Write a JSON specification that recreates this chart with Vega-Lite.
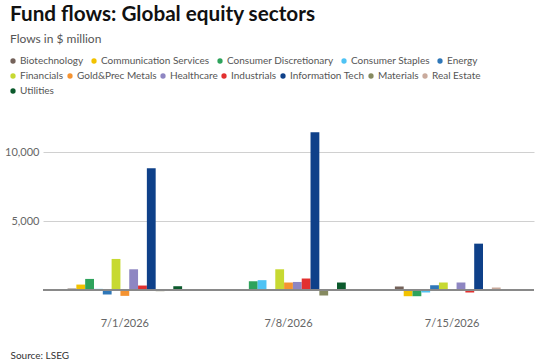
{
  "$schema": "https://vega.github.io/schema/vega-lite/v6.json",
  "width": 491,
  "height": 186,
  "autosize": "none",
  "padding": {"left": 43, "top": 118, "right": 20, "bottom": 60},
  "background": "white",
  "config": {
    "font": "Lato",
    "view": {"stroke": null},
    "axis": {"labelFont": "Lato", "titleFont": "Lato"},
    "legend": {"labelFont": "Lato"}
  },
  "title": {
    "text": "Fund flows: Global equity sectors",
    "subtitle": "Flows in $ million",
    "anchor": "start",
    "frame": "group",
    "dx": -33,
    "offset": 10,
    "font": "Lato",
    "fontSize": 20.7,
    "fontWeight": "bold",
    "color": "#111111",
    "subtitleFont": "Lato",
    "subtitleFontSize": 12,
    "subtitleColor": "#555555",
    "subtitlePadding": 8
  },
  "data": {
    "values": [
      {"date": "7/1/2026", "sector": "Biotechnology", "flow": 120},
      {"date": "7/1/2026", "sector": "Communication Services", "flow": 410},
      {"date": "7/1/2026", "sector": "Consumer Discretionary", "flow": 820},
      {"date": "7/1/2026", "sector": "Consumer Staples", "flow": 100},
      {"date": "7/1/2026", "sector": "Energy", "flow": -310},
      {"date": "7/1/2026", "sector": "Financials", "flow": 2270},
      {"date": "7/1/2026", "sector": "Gold&Prec Metals", "flow": -410},
      {"date": "7/1/2026", "sector": "Healthcare", "flow": 1520},
      {"date": "7/1/2026", "sector": "Industrials", "flow": 340},
      {"date": "7/1/2026", "sector": "Information Tech", "flow": 8860},
      {"date": "7/1/2026", "sector": "Materials", "flow": -70},
      {"date": "7/1/2026", "sector": "Real Estate", "flow": -20},
      {"date": "7/1/2026", "sector": "Utilities", "flow": 290},
      {"date": "7/8/2026", "sector": "Biotechnology", "flow": 20},
      {"date": "7/8/2026", "sector": "Communication Services", "flow": -20},
      {"date": "7/8/2026", "sector": "Consumer Discretionary", "flow": 650},
      {"date": "7/8/2026", "sector": "Consumer Staples", "flow": 730},
      {"date": "7/8/2026", "sector": "Energy", "flow": -50},
      {"date": "7/8/2026", "sector": "Financials", "flow": 1520},
      {"date": "7/8/2026", "sector": "Gold&Prec Metals", "flow": 560},
      {"date": "7/8/2026", "sector": "Healthcare", "flow": 600},
      {"date": "7/8/2026", "sector": "Industrials", "flow": 850},
      {"date": "7/8/2026", "sector": "Information Tech", "flow": 11470},
      {"date": "7/8/2026", "sector": "Materials", "flow": -390},
      {"date": "7/8/2026", "sector": "Real Estate", "flow": 10},
      {"date": "7/8/2026", "sector": "Utilities", "flow": 560},
      {"date": "7/15/2026", "sector": "Biotechnology", "flow": 270},
      {"date": "7/15/2026", "sector": "Communication Services", "flow": -435},
      {"date": "7/15/2026", "sector": "Consumer Discretionary", "flow": -435},
      {"date": "7/15/2026", "sector": "Consumer Staples", "flow": -170},
      {"date": "7/15/2026", "sector": "Energy", "flow": 360},
      {"date": "7/15/2026", "sector": "Financials", "flow": 560},
      {"date": "7/15/2026", "sector": "Gold&Prec Metals", "flow": 10},
      {"date": "7/15/2026", "sector": "Healthcare", "flow": 560},
      {"date": "7/15/2026", "sector": "Industrials", "flow": -170},
      {"date": "7/15/2026", "sector": "Information Tech", "flow": 3380},
      {"date": "7/15/2026", "sector": "Materials", "flow": -20},
      {"date": "7/15/2026", "sector": "Real Estate", "flow": 190},
      {"date": "7/15/2026", "sector": "Utilities", "flow": 10}
    ]
  },
  "encoding": {
    "x": {
      "field": "date",
      "type": "ordinal",
      "sort": ["7/1/2026", "7/8/2026", "7/15/2026"],
      "scale": {"paddingInner": 0.3, "paddingOuter": 0.15},
      "axis": {
        "title": "Source: LSEG",
        "titleAnchor": "start",
        "titleAlign": "left",
        "titleBaseline": "alphabetic",
        "titleX": -33,
        "titleY": 54,
        "titleFontSize": 10,
        "titleFontWeight": "normal",
        "titleColor": "#333333",
        "labelAngle": 0,
        "labelFontSize": 11,
        "labelColor": "#666666",
        "labelPadding": 13,
        "domain": false,
        "ticks": false,
        "grid": false
      }
    },
    "xOffset": {
      "field": "sector",
      "type": "nominal",
      "scale": {
        "domain": ["Biotechnology", "Communication Services", "Consumer Discretionary", "Consumer Staples", "Energy", "Financials", "Gold&Prec Metals", "Healthcare", "Industrials", "Information Tech", "Materials", "Real Estate", "Utilities"],
        "paddingInner": 0,
        "paddingOuter": 0
      }
    },
    "y": {
      "field": "flow",
      "type": "quantitative",
      "scale": {"domain": [-1000, 12500], "nice": false, "zero": false},
      "axis": {
        "title": null,
        "values": [5000, 10000],
        "format": ",.0f",
        "labelFontSize": 11,
        "labelColor": "#666666",
        "labelPadding": 4,
        "domain": false,
        "ticks": false,
        "gridColor": "#d0d0d0",
        "gridWidth": 1
      }
    }
  },
  "layer": [
    {
      "transform": [{"filter": {"field": "sector", "oneOf": ["Biotechnology", "Communication Services", "Consumer Discretionary", "Consumer Staples", "Energy"]}}],
      "mark": {"type": "bar"},
      "encoding": {
        "color": {
          "field": "sector",
          "type": "nominal",
          "scale": {
            "domain": ["Biotechnology", "Communication Services", "Consumer Discretionary", "Consumer Staples", "Energy"],
            "range": ["#74625a", "#f2c200", "#2ea35c", "#4fc3f4", "#2f77b8"]
          },
          "legend": {
            "orient": "none", "legendX": -35, "legendY": -62, "direction": "horizontal",
            "columns": 5, "gridAlign": "none", "title": null, "symbolType": "circle",
            "symbolSize": 28, "labelFontSize": 10, "labelColor": "#555555", "columnPadding": 5, "labelOffset": 2
          }
        }
      }
    },
    {
      "transform": [{"filter": {"field": "sector", "oneOf": ["Financials", "Gold&Prec Metals", "Healthcare", "Industrials", "Information Tech", "Materials", "Real Estate"]}}],
      "mark": {"type": "bar"},
      "encoding": {
        "color": {
          "field": "sector",
          "type": "nominal",
          "scale": {
            "domain": ["Financials", "Gold&Prec Metals", "Healthcare", "Industrials", "Information Tech", "Materials", "Real Estate"],
            "range": ["#c7d932", "#f59331", "#8e86c2", "#e2302f", "#0e4089", "#868a60", "#c9aa9c"]
          },
          "legend": {
            "orient": "none", "legendX": -35, "legendY": -47, "direction": "horizontal",
            "columns": 7, "gridAlign": "none", "title": null, "symbolType": "circle",
            "symbolSize": 28, "labelFontSize": 10, "labelColor": "#555555", "columnPadding": 1, "labelOffset": 2
          }
        }
      }
    },
    {
      "transform": [{"filter": {"field": "sector", "oneOf": ["Utilities"]}}],
      "mark": {"type": "bar"},
      "encoding": {
        "color": {
          "field": "sector",
          "type": "nominal",
          "scale": {"domain": ["Utilities"], "range": ["#0b5a2c"]},
          "legend": {
            "orient": "none", "legendX": -35, "legendY": -32, "direction": "horizontal",
            "columns": 1, "gridAlign": "none", "title": null, "symbolType": "circle",
            "symbolSize": 28, "labelFontSize": 10, "labelColor": "#555555", "columnPadding": 5, "labelOffset": 2
          }
        }
      }
    },
    {
      "mark": {"type": "rule", "color": "#8a8a8a", "strokeWidth": 1},
      "encoding": {"y": {"datum": 0}, "x": null, "xOffset": null}
    }
  ],
  "resolve": {"scale": {"color": "independent"}}
}
